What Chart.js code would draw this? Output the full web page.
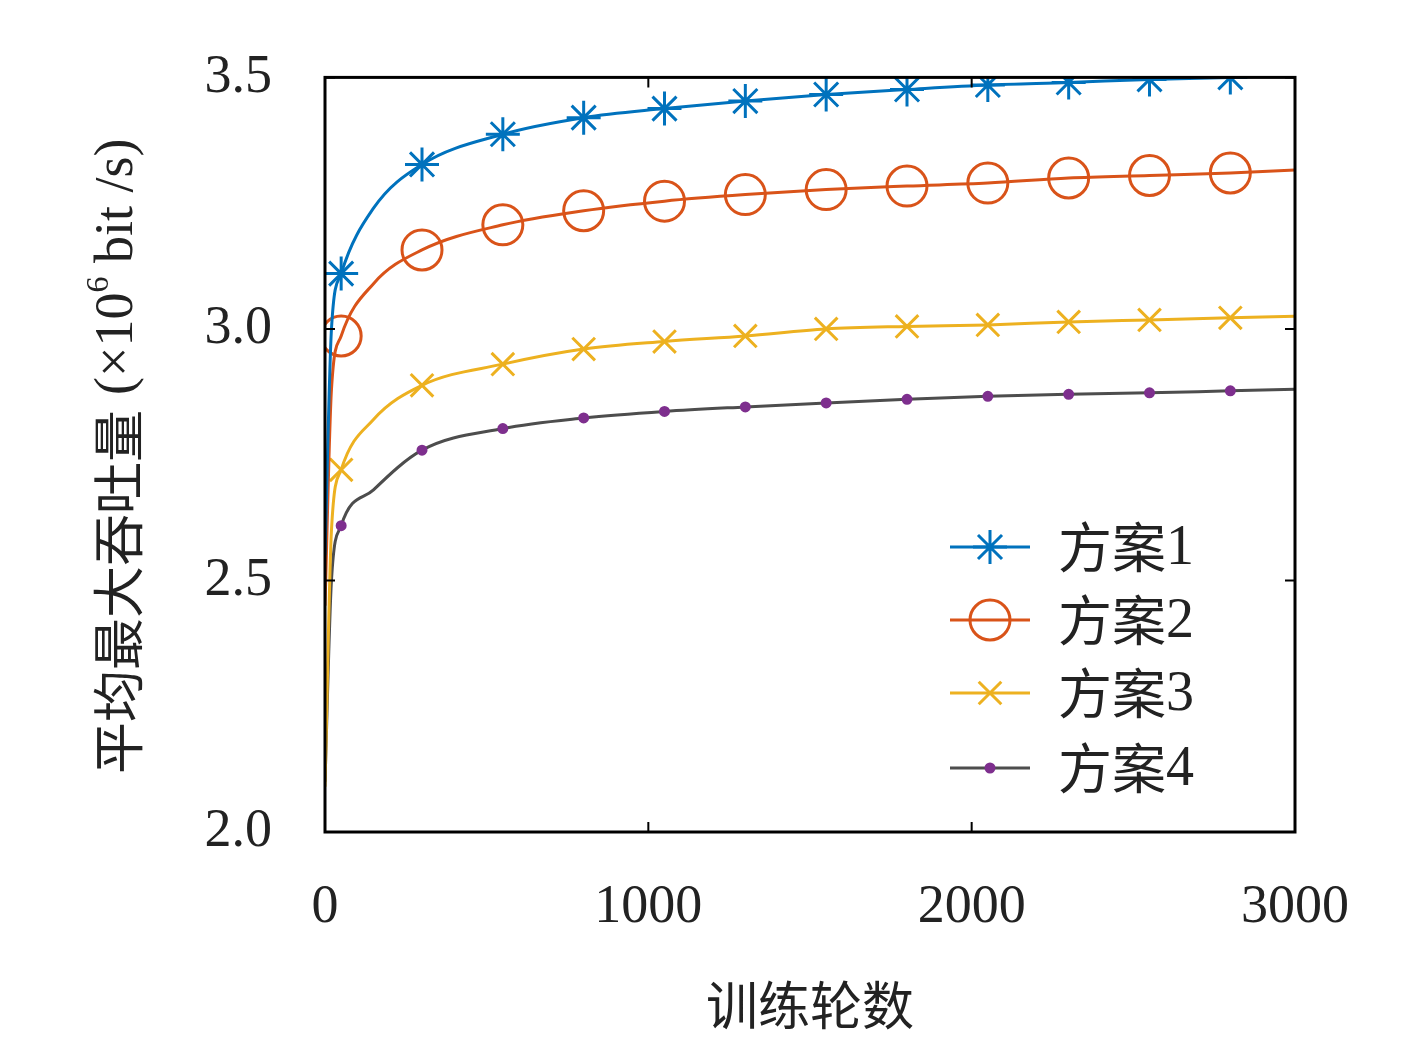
<!DOCTYPE html>
<html><head><meta charset="utf-8">
<script src="https://cdn.jsdelivr.net/npm/chart.js@4/dist/chart.umd.min.js"></script>
<style>html,body{margin:0;background:#fff}#wrap{width:1417px;height:1038px}</style>
</head><body><div id="wrap"><canvas id="c"></canvas></div>
<script>
const rounds = [0, 20, 50, 150, 300, 550, 800, 1050, 1300, 1550, 1800, 2050, 2300, 2550, 2800, 3000];
const markerRounds = [50, 300, 550, 800, 1050, 1300, 1550, 1800, 2050, 2300, 2550, 2800];
const scheme1 = [2.55, 3.0, 3.11, 3.24, 3.327, 3.387, 3.42, 3.438, 3.453, 3.466, 3.476, 3.485, 3.49, 3.496, 3.5, 3.505];
const scheme2 = [2.45, 2.88, 2.986, 3.09, 3.157, 3.207, 3.235, 3.254, 3.267, 3.277, 3.284, 3.29, 3.3, 3.305, 3.31, 3.316];
const scheme3 = [2.09, 2.6, 2.72, 2.82, 2.888, 2.93, 2.96, 2.975, 2.986, 3.0, 3.005, 3.008, 3.014, 3.018, 3.022, 3.025];
const scheme4 = [2.1, 2.5, 2.609, 2.68, 2.759, 2.802, 2.823, 2.836, 2.845, 2.853, 2.86, 2.866, 2.87, 2.873, 2.877, 2.88];
const names = ['方案1', '方案2', '方案3', '方案4'];

const serif = '"Liberation Serif", "DejaVu Serif", serif';
const cjk = '"Noto Sans CJK SC", sans-serif';
const radii = [17, 20, 16, 4];

function mk(label, vals, color, style, radius, fill, pcolor) {
  return {
    label, borderColor: color, borderWidth: 3,
    data: rounds.map((x, i) => ({x, y: vals[i]})),
    pointStyle: style,
    pointRadius: rounds.map(x => markerRounds.includes(x) ? radius : 0),
    pointBorderColor: pcolor || color, pointBackgroundColor: fill,
    pointBorderWidth: 3, cubicInterpolationMode: 'monotone', fill: false
  };
}
const sets = [
  mk(names[0], scheme1, '#0072BD', 'star', radii[0], 'transparent'),
  mk(names[1], scheme2, '#D95319', 'circle', radii[1], 'transparent'),
  mk(names[2], scheme3, '#EDB120', 'crossRot', radii[2], 'transparent'),
  mk(names[3], scheme4, '#4D4D4D', 'circle', radii[3], '#7E2F8E', '#7E2F8E')
];

const frame = {
  id: 'frame',
  afterDraw(ch) {
    const c = ch.ctx, a = ch.chartArea, xs = ch.scales.x, ys = ch.scales.y;
    c.save();
    c.strokeStyle = '#000'; c.lineWidth = 3;
    c.strokeRect(a.left, a.top, a.right - a.left, a.bottom - a.top);
    c.lineWidth = 2;
    [0, 1000, 2000, 3000].forEach(v => {
      const p = xs.getPixelForValue(v);
      c.beginPath(); c.moveTo(p, a.bottom); c.lineTo(p, a.bottom - 10);
      c.moveTo(p, a.top); c.lineTo(p, a.top + 10); c.stroke();
    });
    [2, 2.5, 3, 3.5].forEach(v => {
      const p = ys.getPixelForValue(v);
      c.beginPath(); c.moveTo(a.left, p); c.lineTo(a.left + 10, p);
      c.moveTo(a.right, p); c.lineTo(a.right - 10, p); c.stroke();
    });
    // axis titles
    c.fillStyle = '#222';
    c.font = '52px ' + cjk; c.textAlign = 'center'; c.textBaseline = 'middle';
    c.fillText('训练轮数', 810, 1005);
    c.save(); c.translate(118, 430); c.rotate(-Math.PI / 2);
    c.font = '52px ' + cjk; c.textAlign = 'right';
    c.fillText('平均最大吞吐量', 20, 0);
    c.font = '54px ' + serif; c.textAlign = 'left';
    c.fillText('(×10', 35, 0);
    const w = c.measureText('(×10').width;
    c.font = '32px ' + serif; c.fillText('6', 35 + w, -18);
    c.font = '54px ' + serif; c.fillText(' bit /s)', 35 + w + 16, 0);
    c.restore();
    // legend
    const rows = [547, 620, 693, 768];
    sets.forEach((d, i) => {
      const y = rows[i];
      c.strokeStyle = d.borderColor; c.lineWidth = 3;
      c.beginPath(); c.moveTo(950, y); c.lineTo(1030, y); c.stroke();
      c.strokeStyle = d.pointBorderColor; c.fillStyle = d.pointBackgroundColor; c.lineWidth = 3;
      Chart.helpers.drawPoint(c, {pointStyle: d.pointStyle, radius: radii[i], borderWidth: 3}, 990, y);
      c.fillStyle = '#222'; c.textAlign = 'left';
      c.font = '54px ' + cjk; c.fillText('方案', 1058, y);
      c.font = '56px ' + serif; c.fillText(String(i + 1), 1166, y + 2);
    });
    c.restore();
  }
};

new Chart(document.getElementById('c'), {
  type: 'line',
  data: {datasets: sets},
  options: {
    responsive: true, maintainAspectRatio: false, animation: false,
    layout: {padding: {top: -11, right: 122, left: 0, bottom: 0}},
    plugins: {legend: {display: false}, tooltip: {enabled: false}},
    scales: {
      x: {
        type: 'linear', min: 0, max: 3000,
        ticks: {stepSize: 1000, color: '#222', font: {family: serif, size: 54}, padding: 35, maxRotation: 0,
          callback: v => String(v)},
        grid: {display: false}, border: {display: false},
        afterFit: s => { s.height = 206; }
      },
      y: {
        min: 2, max: 3.5,
        ticks: {stepSize: 0.5, color: '#222', font: {family: serif, size: 54}, padding: 45,
          callback: v => v.toFixed(1)},
        grid: {display: false}, border: {display: false},
        afterFit: s => { s.width = 325; }
      }
    }
  },
  plugins: [frame]
});
</script></body></html>
